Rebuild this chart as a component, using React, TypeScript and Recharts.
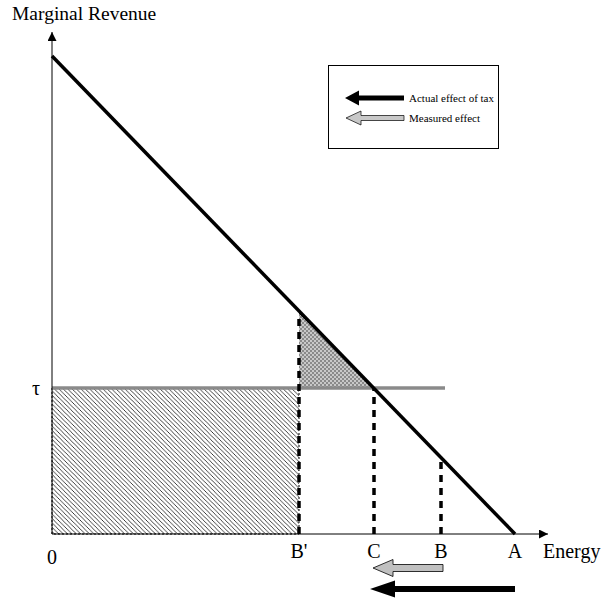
import React from 'react'
import {
  ComposedChart, Line, Area, XAxis, YAxis, ReferenceLine, ReferenceArea
} from 'recharts'

// Diagram units: x = energy, y = marginal revenue (arbitrary scale).
const X_MAX = 496
const Y_MAX = 502

// Points on the axis: 0, B', C, B, A
const xTicks = [0, 247, 322, 389, 463]
const xTickLabels = ['0', "B'", 'C', 'B', 'A']

// Marginal revenue schedule (straight line from the y-axis down to A)
const mrX = [0, 463]
const mrY = [478, 0]

const tau = 146
const tauEnd = 393

// Dashed drop lines at B', C and B and where they meet the MR line / tax line
const dropX = [247, 322, 389]
const dropTop = [221, 146, 76]

// Shaded triangle between B' and C, above the tax line
const triX = [247, 322]
const triTop = [221, 146]

// Arrows under the axis: measured effect (B -> C), actual effect (A -> past C)
const arrowFrom = [391, 463]
const arrowTo = [321, 318]
const arrowY = [-34, -55]

const legendItems = ['Actual effect of tax', 'Measured effect']

const FONT = '"Liberation Serif", "Times New Roman", serif'

const chartData = [
  { x: mrX[0], mr: mrY[0] },
  { x: triX[0], tri: [tau, triTop[0]] },
  { x: triX[1], tri: [tau, triTop[1]] },
  { x: mrX[1], mr: mrY[1] },
]

function blockArrow(tipX: number, tailX: number, y: number, head: number, half: number, shaft: number) {
  return [
    [tailX, y - shaft], [tipX + head, y - shaft], [tipX + head, y - half], [tipX, y],
    [tipX + head, y + half], [tipX + head, y + shaft], [tailX, y + shaft],
  ].map(p => p.join(',')).join(' ')
}

const measuredArrow = (p: any) => (
  <polygon points={blockArrow(p.x2, p.x1, p.y1, 20, 8.5, 3.5)} fill="#c0c0c0" stroke="#000" strokeWidth={0.8} />
)
const actualArrow = (p: any) => (
  <polygon points={blockArrow(p.x2, p.x1, p.y1, 25, 8.5, 3)} fill="#000" />
)

function XTick({ x, y, payload }: any) {
  const i = xTicks.indexOf(payload.value)
  return (
    <text x={x} y={y + (payload.value === 0 ? 28 : 22)} textAnchor="middle" fontSize={20} fontFamily={FONT} fill="#000">
      {xTickLabels[i]}
    </text>
  )
}

function LegendBox() {
  return (
    <div style={{ position: 'absolute', left: 328, top: 65, width: 171, height: 84, border: '1px solid #000', boxSizing: 'border-box', background: '#fff' }}>
      <svg width={169} height={82} style={{ display: 'block' }}>
        <polygon points={blockArrow(16, 75, 32, 14, 7.5, 2.5)} fill="#000" />
        <polygon points={blockArrow(17, 75, 52, 15, 7, 2.5)} fill="#c8c8c8" stroke="#000" strokeWidth={0.7} />
        <text x={80} y={36} fontSize={11} fontFamily={FONT} fill="#000">{legendItems[0]}</text>
        <text x={80} y={56} fontSize={11} fontFamily={FONT} fill="#000">{legendItems[1]}</text>
      </svg>
    </div>
  )
}

export default function App() {
  return (
    <div style={{ position: 'absolute', left: 0, top: 0, width: 605, height: 598, background: '#fff', fontFamily: FONT }}>
      <ComposedChart
        width={605}
        height={598}
        data={chartData}
        margin={{ top: 32, right: 57, bottom: 24, left: 12 }}
      >
        <defs>
          <marker id="axisArrow" viewBox="0 0 10 10" refX={10} refY={5} markerWidth={10} markerHeight={9}
            markerUnits="userSpaceOnUse" orient="auto-start-reverse">
            <path d="M0,0 L10,5 L0,10 z" fill="#000" />
          </marker>
          <pattern id="hatch" patternUnits="userSpaceOnUse" width={4.4} height={4.4}>
            <path d="M-1,-1 L5.4,5.4 M-1,3.4 L1,5.4 M3.4,-1 L5.4,1" stroke="#111" strokeWidth={0.8} />
          </pattern>
          <pattern id="stipple" patternUnits="userSpaceOnUse" width={4} height={4}>
            <rect width={4} height={4} fill="#c8c8c8" />
            <rect x={0} y={0} width={2} height={2} fill="#8a8a8a" />
            <rect x={2} y={2} width={2} height={2} fill="#8a8a8a" />
          </pattern>
        </defs>
        <XAxis
          dataKey="x"
          type="number"
          domain={[0, X_MAX]}
          ticks={xTicks}
          tick={<XTick />}
          tickLine={false}
          tickSize={0}
          height={40}
          axisLine={{ stroke: '#000', strokeWidth: 1, markerEnd: 'url(#axisArrow)' }}
          interval={0}
        />
        <YAxis
          type="number"
          domain={[0, Y_MAX]}
          ticks={[tau]}
          tickFormatter={() => 'τ'}
          tick={{ fontSize: 20, fontFamily: FONT, fill: '#000' }}
          tickLine={false}
          tickSize={0}
          tickMargin={12}
          width={40}
          axisLine={{ stroke: '#000', strokeWidth: 1, markerStart: 'url(#axisArrow)' }}
        />
        <ReferenceArea x1={0} x2={dropX[0]} y1={0} y2={tau} fill="url(#hatch)" fillOpacity={1}
          stroke="#000" strokeWidth={1} strokeDasharray="2 2" />
        <Area
          dataKey="tri"
          type="linear"
          fill="url(#stipple)"
          fillOpacity={1}
          stroke="#000"
          strokeWidth={1}
          dot={false}
          activeDot={false}
          isAnimationActive={false}
        />
        <ReferenceLine segment={[{ x: 0, y: tau }, { x: tauEnd, y: tau }]} stroke="#8a8a8a" strokeWidth={3.5} />
        {dropX.map((x, i) => (
          <ReferenceLine key={x} segment={[{ x, y: 0 }, { x, y: dropTop[i] }]}
            stroke="#000" strokeWidth={3.5} strokeDasharray="7 6" />
        ))}
        <Line
          dataKey="mr"
          type="linear"
          stroke="#000"
          strokeWidth={3.5}
          dot={false}
          activeDot={false}
          connectNulls
          isAnimationActive={false}
        />
        <ReferenceLine segment={[{ x: arrowFrom[0], y: arrowY[0] }, { x: arrowTo[0], y: arrowY[0] }]}
          ifOverflow="visible" shape={measuredArrow} />
        <ReferenceLine segment={[{ x: arrowFrom[1], y: arrowY[1] }, { x: arrowTo[1], y: arrowY[1] }]}
          ifOverflow="visible" shape={actualArrow} />
      </ComposedChart>
      <div style={{ position: 'absolute', left: 12, top: 2, fontSize: 19.5, lineHeight: '24px', color: '#000', whiteSpace: 'nowrap' }}>
        Marginal Revenue
      </div>
      <div style={{ position: 'absolute', left: 543, top: 539, fontSize: 20, lineHeight: '24px', color: '#000', whiteSpace: 'nowrap' }}>
        Energy
      </div>
      <LegendBox />
    </div>
  )
}
